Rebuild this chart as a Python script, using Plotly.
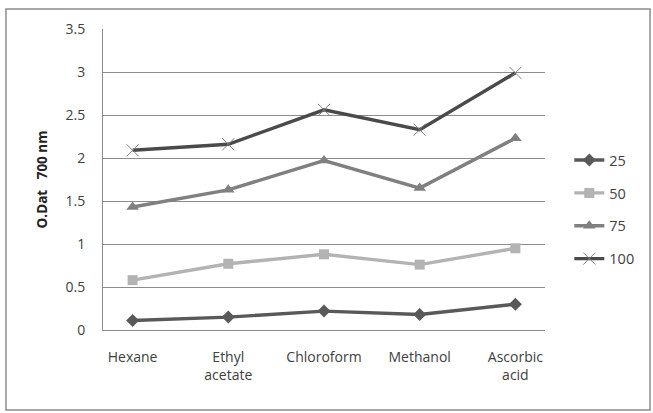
import plotly.graph_objects as go

categories = ["Hexane", "Ethyl<br>acetate", "Chloroform", "Methanol", "Ascorbic<br>acid"]
s25 = [0.11, 0.15, 0.22, 0.18, 0.30]
s50 = [0.58, 0.77, 0.88, 0.76, 0.95]
s75 = [1.43, 1.63, 1.97, 1.65, 2.23]
s100 = [2.09, 2.16, 2.56, 2.33, 2.99]
series_names = ["25", "50", "75", "100"]
y_ticks = [0, 0.5, 1, 1.5, 2, 2.5, 3, 3.5]
y_tick_text = ["0", "0.5", "1", "1.5", "2", "2.5", "3", "3.5"]

fig = go.Figure()
styles = [
    (s25, "#595959", dict(symbol="diamond", size=10, color="#595959")),
    (s50, "#b3b3b3", dict(symbol="square", size=10, color="#b3b3b3")),
    (s75, "#808080", dict(symbol="triangle-up", size=11, color="#808080")),
    (s100, "#4a4a4a", dict(symbol="x-thin", size=12, color="#808080",
                           line=dict(color="#808080", width=1))),
]
for name, (vals, col, mk) in zip(series_names, styles):
    fig.add_trace(go.Scatter(
        x=categories, y=vals, name=name, mode="lines+markers",
        line=dict(color=col, width=3.4), marker=mk, legendgroup=name,
    ))

fig.update_layout(
    width=653, height=413,
    margin=dict(l=103, r=108, t=29, b=83),
    paper_bgcolor="white", plot_bgcolor="white",
    font=dict(family="Open Sans, Liberation Sans, sans-serif", size=13.5, color="#404040"),
    showlegend=True,
    legend=dict(x=1.055, y=0.40, xanchor="left", yanchor="middle",
                tracegroupgap=11, font=dict(size=14.5, color="#404040"),
                bgcolor="rgba(0,0,0,0)"),
    xaxis=dict(type="category", showgrid=False, zeroline=False,
               showline=True, linecolor="#8c8c8c", linewidth=1,
               ticks="", ticklabelstandoff=14, tickfont=dict(size=14)),
    yaxis=dict(range=[0, 3.5], tickvals=y_ticks, ticktext=y_tick_text,
               showgrid=True, gridcolor="#8c8c8c", gridwidth=1,
               zeroline=False, showline=True, linecolor="#8c8c8c",
               ticks="", ticklabelstandoff=14, tickfont=dict(size=14),
               title=dict(text="<b>O.Dat   700 nm</b>", standoff=14,
                          font=dict(size=13.5, color="#222222"))),
    shapes=[dict(type="rect", xref="paper", yref="paper",
                 x0=-0.2195, x1=1.2376, y0=-0.2658, y1=1.0664,
                 line=dict(color="#8c8c8c", width=1.5), layer="below")],
)

fig.write_html("out.html")
